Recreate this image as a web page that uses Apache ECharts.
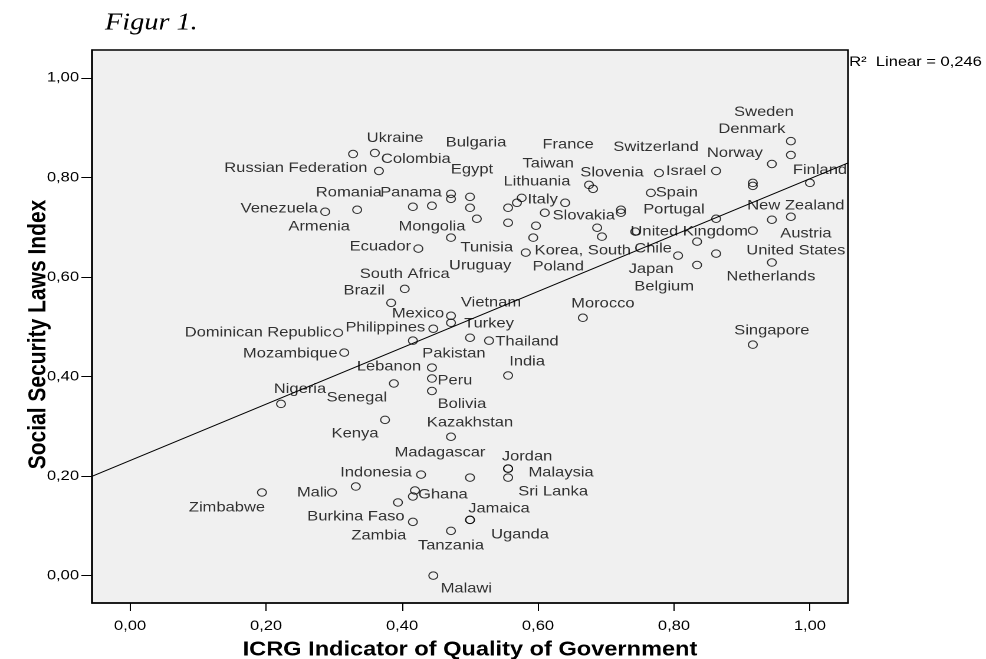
<!DOCTYPE html>
<html>
<head>
<meta charset="utf-8">
<script src="https://cdn.jsdelivr.net/npm/echarts@6/dist/echarts.min.js"></script>
<style>
  html, body { margin: 0; padding: 0; background: #ffffff; overflow: hidden; }
  /* The SPSS export is horizontally stretched; the chart is laid out narrower and widened here. */
  #chart { width: 836px; height: 659px; transform: scaleX(1.17943); transform-origin: 0 0; }
</style>
</head>
<body>
<div id="chart"></div>
<script>
// Country names ('' = point drawn without a label)
const countries = [
  'Sweden', 'Denmark', 'Norway', 'Israel', 'Switzerland', 'Finland', '', '',
  'Spain', 'Portugal', '', 'Slovenia', 'France', 'Italy', 'Lithuania', 'Taiwan',
  '', 'Slovakia', 'Uruguay', '', 'Poland', '', '', 'Korea, South',
  'United Kingdom', '', '', 'United States', 'New Zealand', 'Austria', 'Belgium', 'Chile',
  'Japan', 'Netherlands', 'Singapore', 'Morocco', 'Ukraine', 'Colombia', 'Russian Federation', 'Bulgaria',
  '', 'Egypt', 'Venezuela', 'Armenia', 'Romania', 'Panama', '', 'Tunisia',
  'Mongolia', 'Ecuador', 'South Africa', 'Brazil', 'Mexico', 'Turkey', 'Philippines', 'Dominican Republic',
  'Pakistan', 'Vietnam', 'Thailand', 'Mozambique', 'Lebanon', 'Peru', 'Bolivia', 'India',
  'Senegal', 'Nigeria', 'Kenya', 'Kazakhstan', 'Indonesia', 'Madagascar', 'Jordan', 'Malaysia',
  'Sri Lanka', '', 'Mali', 'Zimbabwe', '', 'Ghana', 'Burkina Faso', 'Zambia',
  'Tanzania', 'Jamaica', 'Uganda', 'Malawi'
];

// ICRG Indicator of Quality of Government
const qualityOfGov = [
  0.972, 0.972, 0.944, 0.862, 0.778, 1.000, 0.916, 0.916,
  0.766, 0.722, 0.722, 0.675, 0.681, 0.576, 0.569, 0.640,
  0.556, 0.610, 0.556, 0.597, 0.593, 0.687, 0.694, 0.582,
  0.743, 0.834, 0.862, 0.916, 0.944, 0.972, 0.862, 0.806,
  0.834, 0.944, 0.916, 0.666, 0.328, 0.360, 0.366, 0.472,
  0.472, 0.500, 0.287, 0.334, 0.416, 0.444, 0.500, 0.510,
  0.472, 0.424, 0.404, 0.384, 0.472, 0.472, 0.446, 0.306,
  0.416, 0.500, 0.528, 0.315, 0.444, 0.444, 0.444, 0.556,
  0.388, 0.222, 0.375, 0.472, 0.428, 0.500, 0.556, 0.556,
  0.556, 0.332, 0.297, 0.194, 0.419, 0.416, 0.394, 0.416,
  0.472, 0.500, 0.500, 0.446
];

// Social Security Laws Index
const socialSecurity = [
  0.873, 0.845, 0.827, 0.813, 0.809, 0.789, 0.789, 0.783,
  0.769, 0.735, 0.729, 0.785, 0.777, 0.759, 0.749, 0.749,
  0.739, 0.729, 0.709, 0.703, 0.679, 0.699, 0.681, 0.649,
  0.691, 0.671, 0.717, 0.693, 0.715, 0.721, 0.647, 0.643,
  0.624, 0.629, 0.464, 0.518, 0.847, 0.849, 0.813, 0.767,
  0.757, 0.761, 0.731, 0.735, 0.741, 0.743, 0.739, 0.717,
  0.679, 0.657, 0.576, 0.548, 0.522, 0.508, 0.496, 0.488,
  0.472, 0.478, 0.472, 0.448, 0.418, 0.396, 0.371, 0.402,
  0.386, 0.345, 0.313, 0.279, 0.203, 0.197, 0.215, 0.215,
  0.197, 0.179, 0.167, 0.167, 0.171, 0.159, 0.147, 0.108,
  0.090, 0.112, 0.112, 0.000
];

const xTickValues = [0, 0.2, 0.4, 0.6, 0.8, 1.0];
const yTickValues = [0, 0.2, 0.4, 0.6, 0.8, 1.0];
const fitLabel = 'R\u00B2  Linear = 0,246';
const titleText = 'Figur 1.';
const xTitle = 'ICRG Indicator of Quality of Government';
const yTitle = 'Social Security Laws Index';

// Horizontal stretch applied to the container (see CSS)
const STRETCH = 986 / 836;

// Label placement: offset of each label's centre from its point, in displayed pixels
const labelOffsets = {
  'Sweden': [-27, -29], 'Denmark': [-39, -26], 'Norway': [-37, -11], 'Israel': [-30, 0],
  'Switzerland': [-3, -26], 'Finland': [10, -13], 'Spain': [26, 0], 'Portugal': [53, 0],
  'Slovenia': [23, -12], 'France': [-25, -44], 'Taiwan': [-17, -39], 'Lithuania': [20, -21],
  'Italy': [21, 2], 'Slovakia': [39, 3], 'Korea, South': [57, -2], 'Poland': [25, 29],
  'Uruguay': [-28, 43], 'United Kingdom': [54, 0], 'Chile': [-25, -7], 'Japan': [-46, 4],
  'Belgium': [-52, 33], 'New Zealand': [24, -14], 'Austria': [15, 17], 'United States': [43, 20],
  'Netherlands': [-1, 14], 'Singapore': [19, -14], 'Morocco': [20, -14], 'Ukraine': [42, -16],
  'Colombia': [41, 6], 'Russian Federation': [-83, -3], 'Bulgaria': [25, -51], 'Egypt': [2, -27],
  'Venezuela': [-46, -3], 'Armenia': [-38, 17], 'Romania': [-64, -14], 'Panama': [-21, -13],
  'Tunisia': [10, 29], 'Mongolia': [-19, -11], 'Ecuador': [-38, -2], 'South Africa': [0, -15],
  'Brazil': [-27, -12], 'Mexico': [-33, -2], 'Turkey': [38, 1], 'Philippines': [-48, -1],
  'Thailand': [38, 1], 'Vietnam': [21, -35], 'Pakistan': [41, 13], 'Dominican Republic': [-80, 0],
  'Mozambique': [-54, 1], 'Lebanon': [-43, -1], 'Peru': [23, 2], 'Bolivia': [30, 13],
  'India': [19, -14], 'Senegal': [-37, 14], 'Nigeria': [19, -15], 'Kenya': [-30, 14],
  'Kazakhstan': [19, -14], 'Madagascar': [-30, -25], 'Indonesia': [-45, -2], 'Jordan': [19, -12],
  'Malaysia': [53, 4], 'Sri Lanka': [45, 14], 'Zimbabwe': [-35, 15], 'Mali': [-20, 0],
  'Ghana': [30, -2], 'Burkina Faso': [-42, 14], 'Zambia': [-34, 14], 'Jamaica': [29, -11],
  'Uganda': [50, 15], 'Tanzania': [0, 15], 'Malawi': [33, 13]
};

const X_MIN = -0.056, X_MAX = 1.056;
const Y_MIN = -0.055, Y_MAX = 1.056;
const FONT = '"Liberation Sans", Arial, sans-serif';

// Ordinary least-squares line through all points
function linearFit(xs, ys) {
  const n = xs.length;
  let sx = 0, sy = 0;
  for (let i = 0; i < n; i++) { sx += xs[i]; sy += ys[i]; }
  const mx = sx / n, my = sy / n;
  let sxy = 0, sxx = 0;
  for (let i = 0; i < n; i++) {
    sxy += (xs[i] - mx) * (ys[i] - my);
    sxx += (xs[i] - mx) * (xs[i] - mx);
  }
  const slope = sxy / sxx;
  return { slope: slope, intercept: my - slope * mx };
}
const fit = linearFit(qualityOfGov, socialSecurity);

const points = countries.map(function (name, i) {
  const off = labelOffsets[name] || [0, 0];
  return {
    name: name,
    value: [qualityOfGov[i], socialSecurity[i]],
    label: {
      show: name !== '',
      offset: [off[0] / STRETCH, off[1]]
    }
  };
});

const fmt = function (v) { return v.toFixed(2).replace('.', ','); };

const chart = echarts.init(document.getElementById('chart'), null, { devicePixelRatio: 2 });
chart.setOption({
  animation: false,
  backgroundColor: '#ffffff',
  grid: {
    left: 78, right: 117, top: 50, bottom: 56,
    outerBoundsMode: 'none',
    show: true, backgroundColor: '#f0f0f0',
    borderColor: '#000000', borderWidth: 1.5
  },
  xAxis: {
    type: 'value', min: X_MIN, max: X_MAX,
    splitLine: { show: false },
    axisLine: { show: true, onZero: false, lineStyle: { color: '#000', width: 1.5 } },
    axisTick: { show: true, length: 8, customValues: xTickValues, lineStyle: { color: '#000', width: 1 } },
    axisLabel: { customValues: xTickValues, formatter: fmt, margin: 16, fontSize: 14, color: '#000', fontFamily: FONT },
    name: xTitle, nameLocation: 'middle', nameGap: 37, nameMoveOverlap: false,
    nameTextStyle: { fontSize: 20, fontWeight: 'bold', color: '#000', fontFamily: FONT }
  },
  yAxis: {
    type: 'value', min: Y_MIN, max: Y_MAX,
    splitLine: { show: false },
    axisLine: { show: true, onZero: false, lineStyle: { color: '#000', width: 1.5 } },
    axisTick: { show: true, length: 9, customValues: yTickValues, lineStyle: { color: '#000', width: 1 } },
    axisLabel: { customValues: yTickValues, formatter: fmt, margin: 11, fontSize: 14, color: '#000', fontFamily: FONT },
    name: yTitle, nameLocation: 'middle', nameGap: 35, nameMoveOverlap: false,
    nameTextStyle: { fontSize: 21, fontWeight: 'bold', color: '#000', fontFamily: FONT, padding: [0, 16, 0, 0] }
  },
  graphic: [
    {
      type: 'text', left: 89, top: 11,
      style: {
        text: titleText, fontSize: 24, fontStyle: 'italic',
        fontFamily: '"Liberation Serif", "Times New Roman", serif', fill: '#000'
      }
    },
    {
      type: 'text', left: 720, top: 55,
      style: { text: fitLabel, fontSize: 14, fontFamily: FONT, fill: '#000' }
    }
  ],
  series: [
    {
      type: 'line',
      silent: true,
      showSymbol: false,
      data: [
        [X_MIN, fit.intercept + fit.slope * X_MIN],
        [X_MAX, fit.intercept + fit.slope * X_MAX]
      ],
      lineStyle: { color: '#000', width: 1 },
      z: 2
    },
    {
      type: 'scatter',
      symbol: 'circle',
      symbolSize: 7.5,
      data: points,
      itemStyle: { color: 'rgba(0,0,0,0)', borderColor: '#000', borderWidth: 1 },
      label: {
        position: 'inside', align: 'center', verticalAlign: 'middle',
        formatter: '{b}', fontSize: 14, color: '#000', fontFamily: FONT
      },
      emphasis: { disabled: true },
      z: 3
    }
  ]
});
</script>
</body>
</html>
